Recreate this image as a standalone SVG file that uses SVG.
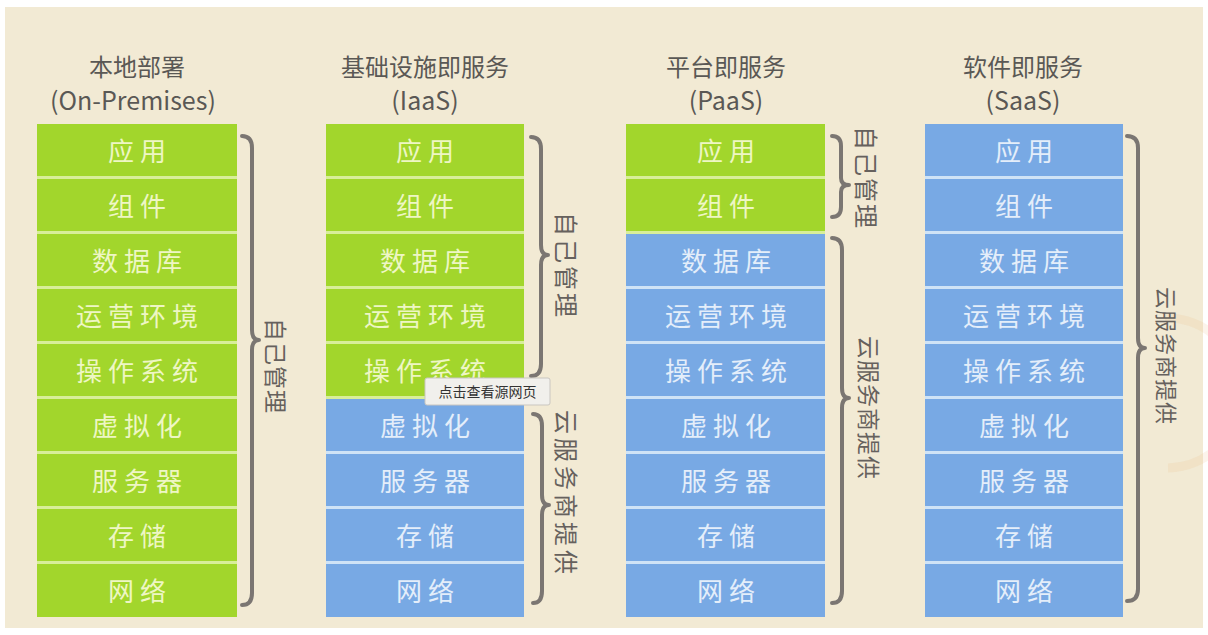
<svg xmlns="http://www.w3.org/2000/svg" width="1208" height="635" viewBox="0 0 1208 635">
<style>
.hd{font-family:"Noto Sans CJK SC","Liberation Sans",sans-serif;fill:#5a5855;text-anchor:middle}
.h1{font-size:24px}
.h2{font-size:25px}
.g{fill:#a2d62c}
.b{fill:#78a9e4}
.cg{font-family:"Noto Sans CJK SC",sans-serif;font-size:26px;letter-spacing:6px;fill:#eef6c4;text-anchor:middle}
.cb{font-family:"Noto Sans CJK SC",sans-serif;font-size:26px;letter-spacing:6px;fill:#e4eefa;text-anchor:middle}
.br{fill:none;stroke:#7b7672;stroke-width:4;stroke-linecap:round;stroke-linejoin:round}
.vt{font-family:"Noto Sans CJK SC",sans-serif;fill:#66615d;text-anchor:middle}
</style>
<rect x="0" y="0" width="1208" height="635" fill="#ffffff"/>
<rect x="5" y="7" width="1198" height="621" fill="#f2ead4"/>
<path d="M1165,318 A62,62 0 0 1 1168,468" fill="none" stroke="#e8b37a" stroke-opacity="0.15" stroke-width="9"/>

<g id="header-onprem"><text class="hd h1" x="137" y="76">本地部署</text><text class="hd h2" x="133" y="110">(On-Premises)</text></g>
<g id="header-iaas"><text class="hd h1" x="425" y="76">基础设施即服务</text><text class="hd h2" x="425" y="110">(IaaS)</text></g>
<g id="header-paas"><text class="hd h1" x="726" y="76">平台即服务</text><text class="hd h2" x="726" y="110">(PaaS)</text></g>
<g id="header-saas"><text class="hd h1" x="1023" y="76">软件即服务</text><text class="hd h2" x="1023" y="110">(SaaS)</text></g>

<g id="col-onprem">
<rect x="37" y="124" width="200" height="493" fill="#d8ee9a"/>
<rect class="g" x="37" y="124" width="200" height="52"/><text class="cg" x="140" y="161">应用</text>
<rect class="g" x="37" y="179" width="200" height="52"/><text class="cg" x="140" y="216">组件</text>
<rect class="g" x="37" y="234" width="200" height="52"/><text class="cg" x="140" y="271">数据库</text>
<rect class="g" x="37" y="289" width="200" height="52"/><text class="cg" x="140" y="326">运营环境</text>
<rect class="g" x="37" y="344" width="200" height="52"/><text class="cg" x="140" y="381">操作系统</text>
<rect class="g" x="37" y="399" width="200" height="52"/><text class="cg" x="140" y="436">虚拟化</text>
<rect class="g" x="37" y="454" width="200" height="52"/><text class="cg" x="140" y="491">服务器</text>
<rect class="g" x="37" y="509" width="200" height="52"/><text class="cg" x="140" y="546">存储</text>
<rect class="g" x="37" y="564" width="200" height="53"/><text class="cg" x="140" y="601">网络</text>
</g>

<g id="col-iaas">
<rect x="326" y="124" width="198" height="493" fill="#cfe3f6"/>
<rect x="326" y="124" width="198" height="275" fill="#d8ee9a"/>
<rect class="g" x="326" y="124" width="198" height="52"/><text class="cg" x="428" y="161">应用</text>
<rect class="g" x="326" y="179" width="198" height="52"/><text class="cg" x="428" y="216">组件</text>
<rect class="g" x="326" y="234" width="198" height="52"/><text class="cg" x="428" y="271">数据库</text>
<rect class="g" x="326" y="289" width="198" height="52"/><text class="cg" x="428" y="326">运营环境</text>
<rect class="g" x="326" y="344" width="198" height="52"/><text class="cg" x="428" y="381">操作系统</text>
<rect class="b" x="326" y="399" width="198" height="52"/><text class="cb" x="428" y="436">虚拟化</text>
<rect class="b" x="326" y="454" width="198" height="52"/><text class="cb" x="428" y="491">服务器</text>
<rect class="b" x="326" y="509" width="198" height="52"/><text class="cb" x="428" y="546">存储</text>
<rect class="b" x="326" y="564" width="198" height="53"/><text class="cb" x="428" y="601">网络</text>
</g>

<g id="col-paas">
<rect x="626" y="124" width="199" height="493" fill="#cfe3f6"/>
<rect x="626" y="124" width="199" height="110" fill="#d8ee9a"/>
<rect class="g" x="626" y="124" width="199" height="52"/><text class="cg" x="729" y="161">应用</text>
<rect class="g" x="626" y="179" width="199" height="52"/><text class="cg" x="729" y="216">组件</text>
<rect class="b" x="626" y="234" width="199" height="52"/><text class="cb" x="729" y="271">数据库</text>
<rect class="b" x="626" y="289" width="199" height="52"/><text class="cb" x="729" y="326">运营环境</text>
<rect class="b" x="626" y="344" width="199" height="52"/><text class="cb" x="729" y="381">操作系统</text>
<rect class="b" x="626" y="399" width="199" height="52"/><text class="cb" x="729" y="436">虚拟化</text>
<rect class="b" x="626" y="454" width="199" height="52"/><text class="cb" x="729" y="491">服务器</text>
<rect class="b" x="626" y="509" width="199" height="52"/><text class="cb" x="729" y="546">存储</text>
<rect class="b" x="626" y="564" width="199" height="53"/><text class="cb" x="729" y="601">网络</text>
</g>

<g id="col-saas">
<rect x="925" y="124" width="198" height="493" fill="#cfe3f6"/>
<rect class="b" x="925" y="124" width="198" height="52"/><text class="cb" x="1027" y="161">应用</text>
<rect class="b" x="925" y="179" width="198" height="52"/><text class="cb" x="1027" y="216">组件</text>
<rect class="b" x="925" y="234" width="198" height="52"/><text class="cb" x="1027" y="271">数据库</text>
<rect class="b" x="925" y="289" width="198" height="52"/><text class="cb" x="1027" y="326">运营环境</text>
<rect class="b" x="925" y="344" width="198" height="52"/><text class="cb" x="1027" y="381">操作系统</text>
<rect class="b" x="925" y="399" width="198" height="52"/><text class="cb" x="1027" y="436">虚拟化</text>
<rect class="b" x="925" y="454" width="198" height="52"/><text class="cb" x="1027" y="491">服务器</text>
<rect class="b" x="925" y="509" width="198" height="52"/><text class="cb" x="1027" y="546">存储</text>
<rect class="b" x="925" y="564" width="198" height="53"/><text class="cb" x="1027" y="601">网络</text>
</g>

<g id="braces">
<path class="br" d="M242,136 Q252,136 252,148 L252,330 Q252,340 259,340 Q252,340 252,350 L252,593 Q252,605 242,605"/>
<path class="br" d="M531,137 Q541,137 541,149 L541,245 Q541,255 548,255 Q541,255 541,265 L541,364 Q541,376 531,376"/>
<path class="br" d="M533,414 Q542,414 542,426 L542,495 Q542,505 549,505 Q542,505 542,515 L542,591 Q542,603 533,603"/>
<path class="br" d="M832,136 Q841,136 841,146 L841,178 Q841,185 849,185 Q841,185 841,192 L841,207 Q841,217 832,217"/>
<path class="br" d="M832,238 Q842,238 842,250 L842,388 Q842,398 849,398 Q842,398 842,408 L842,591 Q842,603 832,603"/>
<path class="br" d="M1127,136 Q1138,136 1138,148 L1138,338 Q1138,348 1145,348 Q1138,348 1138,358 L1138,589 Q1138,601 1127,601"/>
</g>

<g id="labels">
<text class="vt" font-size="23" letter-spacing="1" transform="translate(267,366) rotate(90)">自己管理</text>
<text class="vt" font-size="24" letter-spacing="3" transform="translate(557,266) rotate(90)">自己管理</text>
<text class="vt" font-size="24" letter-spacing="4" transform="translate(557,494) rotate(90)">云服务商提供</text>
<text class="vt" font-size="24" letter-spacing="2" transform="translate(857,178) rotate(90)">自己管理</text>
<text class="vt" font-size="23" letter-spacing="1" transform="translate(860,408) rotate(90)">云服务商提供</text>
<text class="vt" font-size="22" letter-spacing="1" transform="translate(1158,356) rotate(90)">云服务商提供</text>
</g>

<g id="tooltip">
<rect x="425" y="378" width="125" height="27" rx="2" fill="#f1f0ec" stroke="#c9c6c0" stroke-width="1"/>
<text x="487.5" y="397" font-family="Noto Sans CJK SC,sans-serif" font-size="14" fill="#333333" text-anchor="middle">点击查看源网页</text>
</g>
</svg>
